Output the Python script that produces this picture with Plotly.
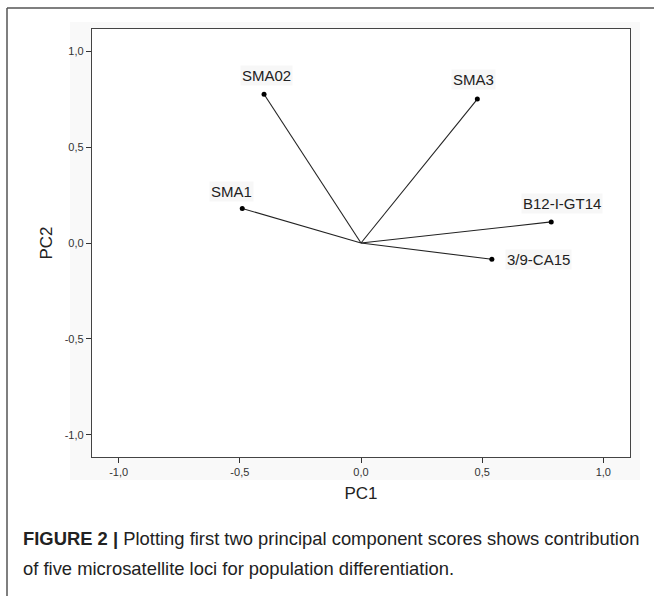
import plotly.graph_objects as go

# ---- data ----
loci = ["SMA02", "SMA3", "SMA1", "B12-I-GT14", "3/9-CA15"]
pc1 = [-0.40, 0.48, -0.49, 0.785, 0.54]
pc2 = [0.775, 0.75, 0.18, 0.11, -0.085]
tick_vals = [-1.0, -0.5, 0.0, 0.5, 1.0]
tick_text = ["-1,0", "-0,5", "0,0", "0,5", "1,0"]

# label placement (pixel offsets from the point)
label_dx = [2, -4, -11, 11, 13]
label_dy = [19, 20, 17, 18, 0]
label_anchor = ["center", "center", "center", "center", "left"]

W, H = 654, 596
L, R, T, B = 92, 24, 29, 139
FONT = "Liberation Sans, Arial, sans-serif"

fig = go.Figure()

# vectors from origin
lx, ly = [], []
for a, b in zip(pc1, pc2):
    lx += [0, a, None]
    ly += [0, b, None]
fig.add_trace(go.Scatter(x=lx, y=ly, mode="lines",
                         line=dict(color="#222222", width=1.1),
                         hoverinfo="skip", showlegend=False))
fig.add_trace(go.Scatter(x=pc1, y=pc2, mode="markers",
                         marker=dict(color="#000000", size=5),
                         text=loci, hoverinfo="text", showlegend=False))

for name, a, b, dx, dy, anc in zip(loci, pc1, pc2, label_dx, label_dy, label_anchor):
    fig.add_annotation(x=a, y=b, text=name, showarrow=False,
                       xshift=dx, yshift=dy, xanchor=anc, yanchor="middle",
                       font=dict(family=FONT, size=15, color="#222222"),
                       bgcolor="rgba(242,242,242,0.6)", borderpad=1)


def fx(p):
    return (p - L) / (W - L - R)


def fy(p):
    return (H - B - p) / (H - T - B)


shapes = [
    # faint chart background halo
    dict(type="rect", xref="paper", yref="paper",
         x0=fx(70), x1=fx(640), y0=fy(480), y1=fy(22),
         line=dict(width=0), fillcolor="#f9f9f9", layer="below"),
    dict(type="rect", xref="paper", yref="paper", x0=0, x1=1, y0=0, y1=1,
         line=dict(width=0), fillcolor="#ffffff", layer="below"),
    # outer frame (left and top lines)
    dict(type="line", xref="paper", yref="paper",
         x0=fx(7), x1=fx(7), y0=fy(8), y1=fy(600),
         line=dict(color="#555555", width=1.5)),
    dict(type="line", xref="paper", yref="paper",
         x0=fx(7), x1=fx(660), y0=fy(8), y1=fy(8),
         line=dict(color="#555555", width=1.5)),
]
fig.update_layout(shapes=shapes)

axis_common = dict(
    tickmode="array", tickvals=tick_vals, ticktext=tick_text,
    ticks="outside", ticklen=5, tickwidth=1.2, tickcolor="#333333",
    showline=True, linecolor="#444444", linewidth=1.3, mirror=True,
    showgrid=False, zeroline=False,
    tickfont=dict(family=FONT, size=11, color="#333333"),
)

fig.update_xaxes(range=[-1.11, 1.11], **axis_common,
                 title=dict(text="PC1", standoff=9,
                            font=dict(family=FONT, size=17, color="#222222")))
fig.update_yaxes(range=[-1.115, 1.115], **axis_common,
                 title=dict(text="PC2", standoff=7,
                            font=dict(family=FONT, size=17, color="#222222")))

# caption
fig.add_annotation(xref="paper", yref="paper", x=fx(21), y=fy(538),
                   xanchor="left", yanchor="middle", showarrow=False,
                   text="<b>FIGURE 2 |</b> Plotting first two principal component scores shows contribution",
                   font=dict(family=FONT, size=18.4, color="#222222"))
fig.add_annotation(xref="paper", yref="paper", x=fx(21), y=fy(568),
                   xanchor="left", yanchor="middle", showarrow=False,
                   text="of five microsatellite loci for population differentiation.",
                   font=dict(family=FONT, size=18.4, color="#222222"))

fig.update_layout(
    width=W, height=H,
    margin=dict(l=L, r=R, t=T, b=B),
    paper_bgcolor="#ffffff", plot_bgcolor="rgba(0,0,0,0)",
    showlegend=False,
)

fig.write_html("out.html", config={"displayModeBar": False},
               post_script="document.body.style.margin='0';document.body.style.overflow='hidden';")
